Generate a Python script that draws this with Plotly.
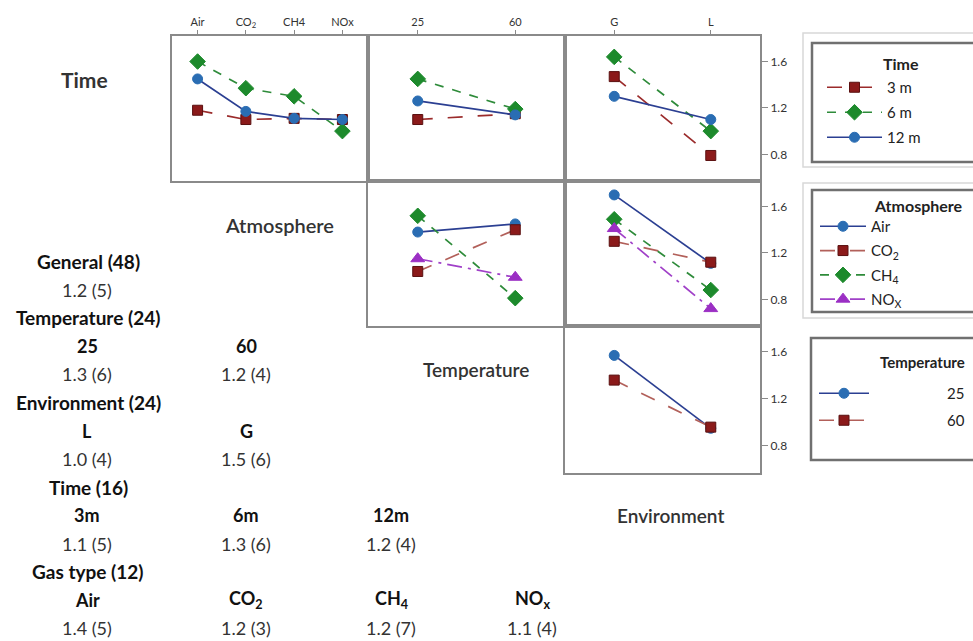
import plotly.graph_objects as go

W, H = 973, 641
FONT = "Lato"

# ---------------- data ----------------
atm_cats = ["Air", "CO<sub>2</sub>", "CH4", "NOx"]
temp_cats = ["25", "60"]
env_cats = ["G", "L"]

time_names = ["3 m", "6 m", "12 m"]
time_atm = [[1.18, 1.10, 1.11, 1.10], [1.60, 1.37, 1.30, 1.00], [1.45, 1.17, 1.11, 1.10]]
time_temp = [[1.10, 1.15], [1.45, 1.19], [1.26, 1.14]]
time_env = [[1.47, 0.79], [1.64, 1.00], [1.30, 1.10]]

gas_names = ["Air", "CO<sub>2</sub>", "CH<sub>4</sub>", "NO<sub>X</sub>"]
gas_temp = [[1.38, 1.45], [1.04, 1.40], [1.52, 0.81], [1.15, 0.99]]
gas_env = [[1.70, 1.11], [1.30, 1.12], [1.49, 0.88], [1.41, 0.72]]

temp_names = ["25", "60"]
temp_env = [[1.57, 0.95], [1.36, 0.96]]

y_ticks = [0.8, 1.2, 1.6]

panel_titles = ["Time", "Atmosphere", "Temperature", "Environment"]

sum_headers = ["General (48)", "Temperature (24)", "Environment (24)", "Time (16)", "Gas type (12)"]
sum_levels = [[], ["25", "60"], ["L", "G"], ["3m", "6m", "12m"],
              ["Air", "CO<sub>2</sub>", "CH<sub>4</sub>", "NO<sub>x</sub>"]]
sum_means = [["1.2 (5)"], ["1.3 (6)", "1.2 (4)"], ["1.0 (4)", "1.5 (6)"],
             ["1.1 (5)", "1.3 (6)", "1.2 (4)"], ["1.4 (5)", "1.2 (3)", "1.2 (7)", "1.1 (4)"]]

# ---------------- styles ----------------
RED_M, RED_L, RED_L2 = "#8b1a1a", "#9b2b2b", "#b2605a"
GRN_M, GRN_L = "#1d8a2c", "#2e8b3a"
BLU_M, BLU_L = "#2a6db3", "#2b3f92"
PUR_M, PUR_L = "#9b2fc4", "#a040c8"

time_styles = [
    dict(lc=RED_L, dash="longdash", sym="square", mc=RED_M, ms=10),
    dict(lc=GRN_L, dash="dash", sym="diamond", mc=GRN_M, ms=12),
    dict(lc=BLU_L, dash="solid", sym="circle", mc=BLU_M, ms=10),
]
gas_styles = [
    dict(lc=BLU_L, dash="solid", sym="circle", mc=BLU_M, ms=10),
    dict(lc=RED_L2, dash="longdash", sym="square", mc=RED_M, ms=10),
    dict(lc=GRN_L, dash="dash", sym="diamond", mc=GRN_M, ms=12),
    dict(lc=PUR_L, dash="longdashdot", sym="triangle-up", mc=PUR_M, ms=12),
]
temp_styles = [
    dict(lc=BLU_L, dash="solid", sym="circle", mc=BLU_M, ms=10),
    dict(lc=RED_L2, dash="longdash", sym="square", mc=RED_M, ms=10),
]

fig = go.Figure()


def add(xc, yv, ax, st, name, legend, show, group):
    fig.add_trace(go.Scatter(
        x=xc, y=yv, mode="lines+markers", name=name,
        xaxis="x" + ax, yaxis="y" + ax,
        line=dict(color=st["lc"], dash=st["dash"], width=1.7),
        marker=dict(symbol=st["sym"], color=st["mc"], size=st["ms"],
                    line=dict(color="#5a1010" if st["mc"] == RED_M else st["mc"], width=1)),
        legend=legend, showlegend=show, legendgroup=group,
    ))


for i, n in enumerate(time_names):
    add(atm_cats, time_atm[i], "", time_styles[i], n, "legend", True, "t" + n)
    add(temp_cats, time_temp[i], "2", time_styles[i], n, "legend", False, "t" + n)
    add(env_cats, time_env[i], "3", time_styles[i], n, "legend", False, "t" + n)

for i, n in enumerate(gas_names):
    add(temp_cats, gas_temp[i], "4", gas_styles[i], n, "legend2", True, "g" + n)
    add(env_cats, gas_env[i], "5", gas_styles[i], n, "legend2", False, "g" + n)

pad = "\u00a0" * 19
for i, n in enumerate(temp_names):
    add(env_cats, temp_env[i], "6", temp_styles[i], pad + n, "legend3", True, "p" + n)

# ---------------- axes ----------------
cols = [(172, 368), (368, 565), (565, 760)]
rows = [(36, 181), (181, 326), (326, 473)]
panels = [("", 0, 0, atm_cats), ("2", 1, 0, temp_cats), ("3", 2, 0, env_cats),
          ("4", 1, 1, temp_cats), ("5", 2, 1, env_cats), ("6", 2, 2, env_cats)]

LINE = "#8a8a8a"
layout = {}
for suf, c, r, cats in panels:
    n = len(cats)
    padx = 0.53 if n == 4 else 0.51
    xd = [cols[c][0] / W, cols[c][1] / W]
    yd = [1 - rows[r][1] / H, 1 - rows[r][0] / H]
    top = r == 0
    right = c == 2
    layout["xaxis" + suf] = dict(
        domain=xd, anchor="y" + suf, type="category", range=[-padx, n - 1 + padx],
        categoryorder="array", categoryarray=cats,
        side="top", showline=True, mirror=True, linecolor=LINE, linewidth=2,
        showgrid=False, zeroline=False, fixedrange=True,
        ticks="outside" if top else "", ticklen=4, tickcolor=LINE, tickwidth=1,
        showticklabels=top, tickfont=dict(family=FONT, size=11, color="#333"),
    )
    layout["yaxis" + suf] = dict(
        domain=yd, anchor="x" + suf, range=[0.57, 1.82],
        side="right", showline=True, mirror=True, linecolor=LINE, linewidth=2,
        showgrid=False, zeroline=False, fixedrange=True,
        tickvals=y_ticks if right else [], ticktext=[f"{v:.1f}" for v in y_ticks] if right else [],
        ticks="outside" if right else "", ticklen=6, tickcolor=LINE, tickwidth=1,
        showticklabels=right, tickfont=dict(family=FONT, size=12, color="#333"),
    )

# ---------------- legends ----------------
def leg(x, y, gap, size):
    return dict(x=x / W, y=1 - y / H, xanchor="left", yanchor="top",
                bgcolor="rgba(0,0,0,0)", borderwidth=0, traceorder="grouped",
                tracegroupgap=gap, font=dict(family=FONT, size=size, color="#222"),
                itemclick=False, itemdoubleclick=False)

l1 = leg(822, 71, 2.5, 15); l1["itemwidth"] = 55
l2 = leg(815, 210, 1.8, 15); l2["itemwidth"] = 46
l3 = leg(814, 377, 4.5, 15); l3["itemwidth"] = 50

# ---------------- annotations ----------------
ann = []


def text(t, x, y, size, color, weight=None):
    f = dict(family=FONT, size=size, color=color)
    if weight:
        f["weight"] = weight
    ann.append(dict(text=t, x=x / W, y=1 - y / H, xref="paper", yref="paper",
                    xanchor="center", yanchor="middle", showarrow=False, font=f))


title_pos = [(84, 79, 21, 700), (279, 225, 20, 600), (476, 370, 19, 600), (670, 515, 19, 600)]
for t, (x, y, s, wgt) in zip(panel_titles, title_pos):
    text(t, x, y, s, "#333", wgt)

leg_titles = [("Time", 901, 63, 16), ("Atmosphere", 918, 205, 16), ("Temperature", 922, 362, 15)]
for t, x, y, s in leg_titles:
    text(t, x, y, s, "#222", 700)

col_x = [87, 246, 391, 532]
y0, step = 261.5, 28.2
k = 0
for hdr, lv, mv in zip(sum_headers, sum_levels, sum_means):
    text(hdr, 88, y0 + step * k, 19, "#111", 700)
    k += 1
    if lv:
        for j, t in enumerate(lv):
            text(t, col_x[j], y0 + step * k, 18, "#111", 700)
        k += 1
    for j, t in enumerate(mv):
        text(t, col_x[j], y0 + step * k, 18, "#333")
    k += 1

# ---------------- legend boxes ----------------
def rect(x0, y0_, x1, y1, color, w):
    return dict(type="rect", xref="paper", yref="paper", x0=x0 / W, x1=x1 / W,
                y0=1 - y1 / H, y1=1 - y0_ / H, line=dict(color=color, width=w),
                fillcolor="rgba(0,0,0,0)", layer="above")

shapes = [
    rect(803, 33, 990, 167, "#d8d8d8", 1.5),
    rect(812, 43, 990, 162, "#707070", 2.5),
    rect(803, 183, 990, 318, "#d8d8d8", 1.5),
    rect(812, 190, 990, 312, "#707070", 2.5),
    rect(811, 338, 990, 460, "#707070", 2.5),
]

fig.update_layout(
    width=W, height=H, margin=dict(l=0, r=0, t=0, b=0),
    paper_bgcolor="white", plot_bgcolor="white",
    font=dict(family=FONT, color="#333"),
    legend=l1, legend2=l2, legend3=l3,
    annotations=ann, shapes=shapes,
    **layout,
)

fig.write_html("out.html")
